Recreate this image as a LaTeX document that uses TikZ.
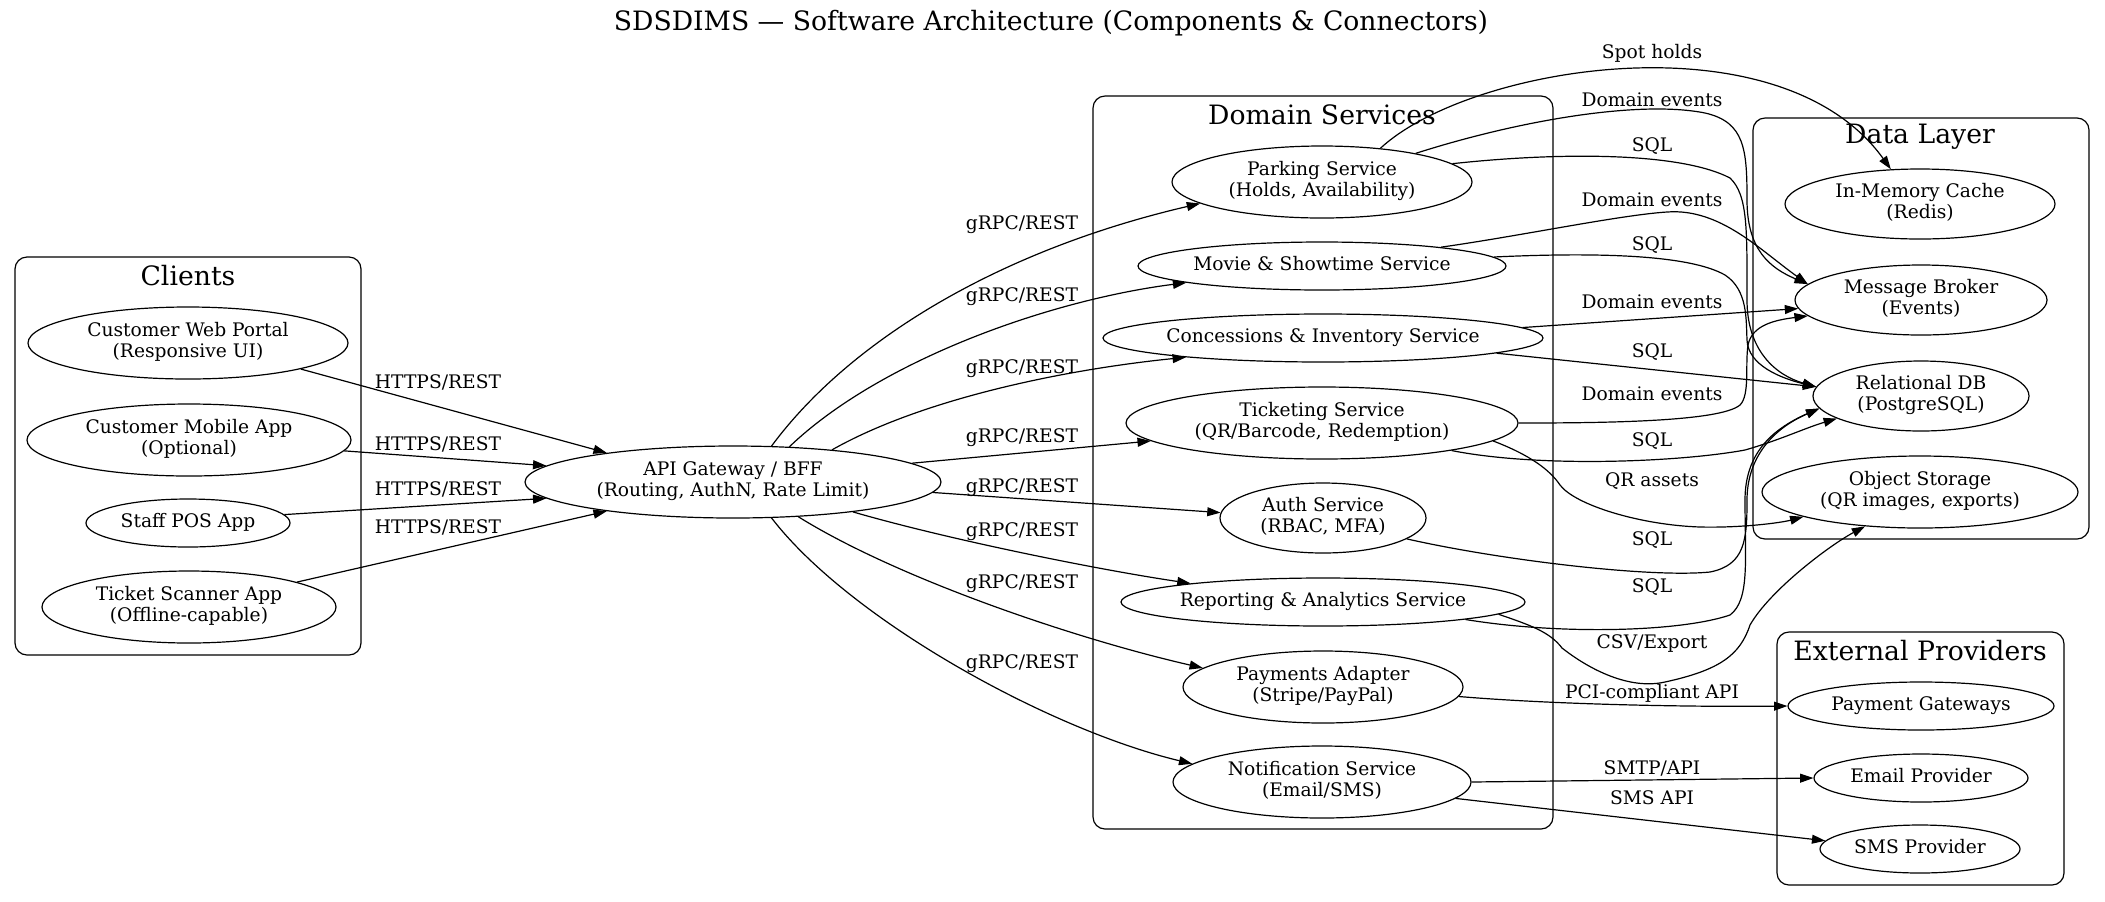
\documentclass[tikz,border=0pt]{standalone}
\usepackage{fontspec}
\setmainfont{DejaVu Serif}
\usetikzlibrary{shapes.geometric,arrows.meta}
\newcommand\ztx[1]{\makebox[0pt]{\begin{tabular}{@{}c@{}}#1\end{tabular}}}
\begin{document}
\begin{tikzpicture}[x=0.75pt,y=-0.75pt,
  E/.style 2 args={ellipse,draw,line width=0.9pt,inner sep=0pt,minimum width=#1*1.5pt,minimum height=#2*1.5pt,font=\fontsize{14}{15.5}\selectfont},
  cl/.style={draw,line width=0.9pt,rounded corners=9pt},
  cltitle/.style={font=\fontsize{20}{24}\selectfont,inner sep=0pt},
  lbl/.style={font=\fontsize{14}{16}\selectfont,inner sep=0pt},
  con/.style={line width=0.9pt,-{Triangle[length=10pt,width=6.7pt]}},
]
\useasboundingbox (0,0) rectangle (2105,901);
\fill[white] (0,0) rectangle (2105,901);

% title
\node[cltitle] (title) at (1051,23) {SDSDIMS — Software Architecture (Components \& Connectors)};

% clusters
\draw[cl] (15,257) rectangle (361,655);
\node[cltitle] (tclients) at (188,276) {Clients};
\draw[cl] (1093,96) rectangle (1553,829);
\node[cltitle] (tdomain) at (1322,115) {Domain Services};
\draw[cl] (1753,118) rectangle (2089,539);
\node[cltitle] (tdata) at (1920,137) {Data Layer};
\draw[cl] (1777,632) rectangle (2064,885);
\node[cltitle] (text) at (1920,651) {External Providers};

% nodes
\node[E={160}{36}] (wp) at (188,343) {\ztx{Customer Web Portal\\(Responsive UI)}};
\node[E={162}{36}] (mob) at (189,440) {\ztx{Customer Mobile App\\(Optional)}};
\node[E={102}{24}] (pos) at (188,523) {\ztx{Staff POS App}};
\node[E={147}{36}] (scan) at (189,607) {\ztx{Ticket Scanner App\\(Offline-capable)}};
\node[E={208}{36}] (gw) at (733,482) {\ztx{API Gateway / BFF\\(Routing, AuthN, Rate Limit)}};
\node[E={150}{36}] (park) at (1322,182) {\ztx{Parking Service\\(Holds, Availability)}};
\node[E={184}{24}] (movie) at (1322,266) {\ztx{Movie \& Showtime Service}};
\node[E={220}{24}] (conc) at (1323,338) {\ztx{Concessions \& Inventory Service}};
\node[E={196}{36}] (tick) at (1322,423) {\ztx{Ticketing Service\\(QR/Barcode, Redemption)}};
\node[E={103}{35}] (auth) at (1323,518) {\ztx{Auth Service\\(RBAC, MFA)}};
\node[E={202}{24}] (rep) at (1323,602) {\ztx{Reporting \& Analytics Service}};
\node[E={140}{36}] (pay) at (1323,687) {\ztx{Payments Adapter\\(Stripe/PayPal)}};
\node[E={149}{36}] (notif) at (1322,782) {\ztx{Notification Service\\(Email/SMS)}};
\node[E={135}{35}] (cache) at (1920,204) {\ztx{In-Memory Cache\\(Redis)}};
\node[E={126}{35}] (broker) at (1921,300) {\ztx{Message Broker\\(Events)}};
\node[E={108}{35}] (rdb) at (1921,396) {\ztx{Relational DB\\(PostgreSQL)}};
\node[E={158}{36}] (obj) at (1920,492) {\ztx{Object Storage\\(QR images, exports)}};
\node[E={133}{24}] (pg) at (1921,706) {\ztx{Payment Gateways}};
\node[E={107}{24}] (email) at (1921,778) {\ztx{Email Provider}};
\node[E={100}{24}] (sms) at (1920,849) {\ztx{SMS Provider}};

% client edges
\draw[con] (wp.-13) -- (gw.167);
\draw[con] (mob.-4) -- (gw.175.5);
\draw[con] (pos.5) -- (gw.185);
\draw[con] (scan.13) -- (gw.193.5);
\node[lbl] (l1) at (438,382) {HTTPS/REST};
\node[lbl] (l2) at (438,444) {HTTPS/REST};
\node[lbl] (l3) at (438,489) {HTTPS/REST};
\node[lbl] (l4) at (438,527) {HTTPS/REST};

% gateway to services
\draw[con] (gw.43) .. controls (850,340) and (1000,250) .. (park.190);
\draw[con] (gw.32) .. controls (880,360) and (1050,300) .. (movie.187);
\draw[con] (gw.18) .. controls (920,400) and (1060,370) .. (conc.188);
\draw[con] (gw.6) -- (tick.186);
\draw[con] (gw.-3.5) -- (auth.177);
\draw[con] (gw.-14) .. controls (950,540) and (1100,570) .. (rep.172);
\draw[con] (gw.-28) .. controls (900,580) and (1080,640) .. (pay.171);
\draw[con] (gw.-43) .. controls (850,620) and (1050,730) .. (notif.172);
\node[lbl] (g1) at (1022,225) {gRPC/REST};
\node[lbl] (g2) at (1022,297) {gRPC/REST};
\node[lbl] (g3) at (1022,369) {gRPC/REST};
\node[lbl] (g4) at (1022,438) {gRPC/REST};
\node[lbl] (g5) at (1022,488) {gRPC/REST};
\node[lbl] (g6) at (1022,532) {gRPC/REST};
\node[lbl] (g7) at (1022,584) {gRPC/REST};
\node[lbl] (g8) at (1022,664) {gRPC/REST};

% services to data layer
\draw[con] (park.30) .. controls (1470,65) and (1780,15) .. (cache.130);
\draw[con] (park.17) .. controls (1520,120) and (1640,100) .. (1705,113) .. controls (1745,122) and (1747,150) .. (1747,200) .. controls (1747,250) and (1770,268) .. (broker.172);
\draw[con] (park.8) .. controls (1560,152) and (1680,152) .. (1730,178) .. controls (1748,195) and (1747,230) .. (1747,300) .. controls (1747,350) and (1775,375) .. (rdb.175);
\draw[con] (movie.9) .. controls (1520,236) and (1620,215) .. (1667,212) .. controls (1720,208) and (1760,250) .. (broker.172);
\draw[con] (movie.3) .. controls (1600,252) and (1690,255) .. (1725,275) .. controls (1748,290) and (1746,320) .. (1747,340) .. controls (1748,365) and (1780,378) .. (rdb.175);
\draw[con] (conc.3.5) -- (broker.184);
\draw[con] (conc.-5.6) -- (rdb.175);
\draw[con] (tick.0) .. controls (1600,423) and (1720,422) .. (1740,405) .. controls (1750,395) and (1745,365) .. (1748,345) .. controls (1752,325) and (1775,320) .. (broker.188);
\draw[con] (tick.-12) .. controls (1540,468) and (1680,462) .. (1745,450) .. controls (1780,440) and (1805,428) .. (rdb.195);
\draw[con] (tick.-6) .. controls (1530,455) and (1550,470) .. (1560,485) .. controls (1575,505) and (1640,525) .. (1700,527) .. controls (1740,528) and (1780,523) .. (obj.192.5);
\draw[con] (auth.-14) .. controls (1500,560) and (1650,578) .. (1710,572) .. controls (1745,565) and (1747,540) .. (1747,500) .. controls (1747,460) and (1770,430) .. (rdb.187);
\draw[con] (rep.-7) .. controls (1560,635) and (1680,632) .. (1730,615) .. controls (1750,600) and (1745,560) .. (1745,500) .. controls (1745,455) and (1770,430) .. (rdb.187);
\draw[con] (rep.-4) .. controls (1530,625) and (1550,632) .. (1562,648) .. controls (1590,670) and (1630,690) .. (1665,682) .. controls (1720,670) and (1740,655) .. (1750,625) .. controls (1770,590) and (1830,545) .. (obj.212);
\node[lbl] (r1) at (1652,53) {Spot holds};
\node[lbl] (r2) at (1652,100) {Domain events};
\node[lbl] (r3) at (1652,146) {SQL};
\node[lbl] (r4) at (1652,200) {Domain events};
\node[lbl] (r5) at (1652,245) {SQL};
\node[lbl] (r6) at (1652,302) {Domain events};
\node[lbl] (r7) at (1652,352) {SQL};
\node[lbl] (r8) at (1652,394) {Domain events};
\node[lbl] (r9) at (1652,441) {SQL};
\node[lbl] (r10) at (1652,481) {QR assets};
\node[lbl] (r11) at (1652,540) {SQL};
\node[lbl] (r12) at (1652,587) {SQL};
\node[lbl] (r13) at (1652,643) {CSV/Export};

% external providers
\draw[con] (pay.-4.7) .. controls (1560,705) and (1700,707) .. (pg.180);
\draw[con] (notif.0) -- (email.180);
\draw[con] (notif.-7) -- (sms.175);
\node[lbl] (e1) at (1652,693) {PCI-compliant API};
\node[lbl] (e2) at (1652,768) {SMTP/API};
\node[lbl] (e3) at (1652,798) {SMS API};
\end{tikzpicture}
\end{document}
